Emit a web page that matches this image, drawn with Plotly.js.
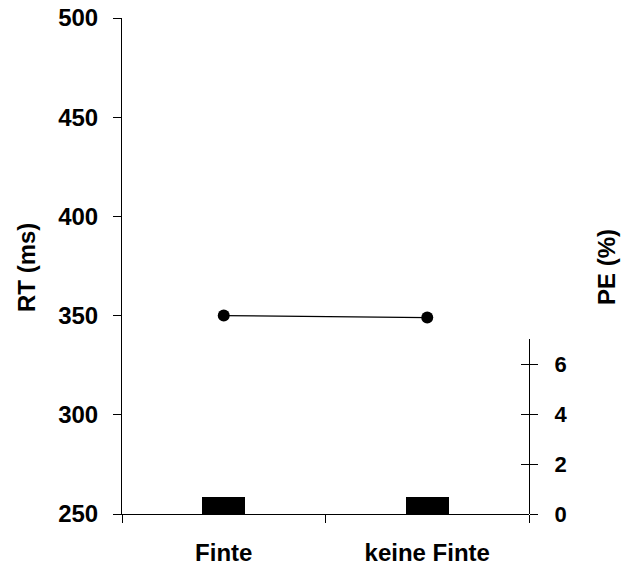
<!DOCTYPE html>
<html>
<head>
<meta charset="utf-8">
<script src="https://cdn.plot.ly/plotly-3.0.1.min.js"></script>
<style>html,body{margin:0;padding:0;background:#fff;}#chart{width:622px;height:567px;}</style>
</head>
<body>
<div id="chart"></div>
<script>
const categories = ['Finte', 'keine Finte'];
const rtValues = [350, 349];
const peValues = [0.7, 0.7];
const rtTicks = [250, 300, 350, 400, 450, 500];
const peTicks = [0, 2, 4, 6];

const FONT = 'Liberation Sans, Arial, sans-serif';

const traces = [
  {
    type: 'bar', x: categories, y: peValues, xaxis: 'x', yaxis: 'y2',
    width: 0.21, marker: {color: '#000', line: {width: 0}}, hoverinfo: 'skip', showlegend: false
  },
  {
    type: 'scatter', mode: 'markers', x: categories, y: peValues, xaxis: 'x', yaxis: 'y3',
    marker: {opacity: 0}, hoverinfo: 'skip', showlegend: false
  },
  {
    type: 'scatter', mode: 'lines+markers', x: categories, y: rtValues, xaxis: 'x', yaxis: 'y',
    line: {color: '#000', width: 1.3}, marker: {color: '#000', size: 12}, showlegend: false
  }
];

const axisCommon = {
  showgrid: false, zeroline: false, showline: true, linecolor: '#000', linewidth: 1,
  ticks: 'outside', ticklen: 8, tickwidth: 1, tickcolor: '#000'
};

const layout = {
  width: 622, height: 567,
  margin: {l: 122, r: 93, t: 18, b: 53, autoexpand: false},
  paper_bgcolor: '#fff', plot_bgcolor: 'rgba(0,0,0,0)',
  font: {family: FONT, color: '#000'},
  bargap: 0,
  xaxis: Object.assign({}, axisCommon, {
    type: 'category', range: [-0.5, 1.5], tickson: 'boundaries', anchor: 'y',
    tickfont: {family: FONT, size: 24, weight: 'bold', color: '#000'}, ticklabelstandoff: 17
  }),
  yaxis: Object.assign({}, axisCommon, {
    range: [250, 500], tickvals: rtTicks, anchor: 'x', domain: [0, 1],
    tickfont: {family: FONT, size: 24, weight: 'bold', color: '#000'}, ticklabelstandoff: 10
  }),
  yaxis2: Object.assign({}, axisCommon, {
    range: [0, 7], tickvals: peTicks, anchor: 'x', side: 'right', domain: [0, 0.3528],
    tickfont: {family: FONT, size: 22, weight: 'bold', color: '#000'}, ticklabelstandoff: 12
  }),
  yaxis3: {
    range: [0, 7], tickvals: peTicks, anchor: 'x', side: 'right', overlaying: 'y2',
    showgrid: false, zeroline: false, showline: false, showticklabels: false,
    ticks: 'inside', ticklen: 8, tickwidth: 1, tickcolor: '#000'
  },
  annotations: [
    {text: 'RT (ms)', xref: 'paper', yref: 'paper', x: -0.2334, y: 0.496, textangle: -90,
     xanchor: 'center', yanchor: 'middle', showarrow: false,
     font: {family: FONT, size: 24, weight: 'bold', color: '#000'}},
    {text: 'PE (%)', xref: 'paper', yref: 'paper', x: 1.1916, y: 0.498, textangle: -90,
     xanchor: 'center', yanchor: 'middle', showarrow: false,
     font: {family: FONT, size: 24, weight: 'bold', color: '#000'}}
  ]
};

Plotly.newPlot('chart', traces, layout, {staticPlot: true, displayModeBar: false});
</script>
</body>
</html>
